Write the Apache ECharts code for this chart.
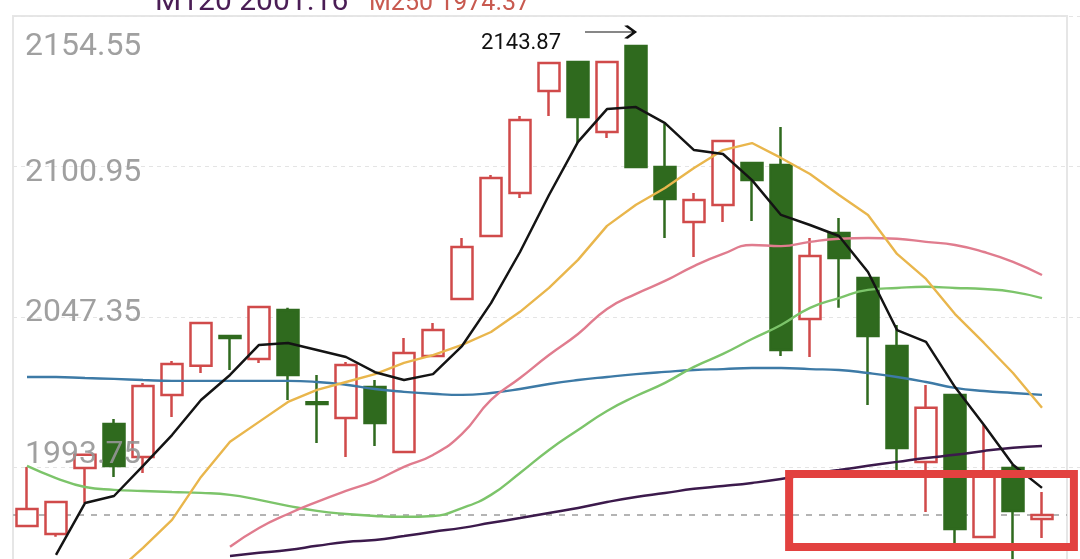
<!DOCTYPE html>
<html>
<head>
<meta charset="utf-8">
<script src="https://cdn.jsdelivr.net/npm/echarts@6/dist/echarts.min.js"></script>
<style>
html,body{margin:0;padding:0;background:#fff;}
#c{width:1080px;height:559px;}
</style>
</head>
<body>
<div id="c"></div>
<script>
// ---- data ----
const open  = [1972.95,1970.05,1993.6,2009.25,1997.5,2019.6,2029.95,2040.6,2032.4,2049.85,2017.0,2011.4,2022.45,1999.3,2033.5,2053.8,2076.2,2091.5,2127.85,2138.15,2113.25,2143.87,2100.8,2081.2,2087.25,2102.2,2101.5,2046.65,2077.3,2061.25,2037.0,1995.75,2019.6,1969.0,1993.6,1975.4];
const close = [1979.0,1981.45,1998.25,1994.3,2022.8,2030.65,2045.25,2039.9,2050.95,2026.7,2016.4,2030.25,2009.6,2034.55,2042.75,2072.3,2096.85,2117.5,2137.8,2118.6,2138.15,2100.8,2089.4,2089.05,2110.0,2096.15,2035.6,2069.1,2068.4,2040.6,2000.7,2015.0,1971.85,1991.8,1978.3,1976.85];
const low   = [1972.95,1969.05,1981.1,1990.4,1991.8,2011.75,2027.4,2028.5,2031.0,2017.8,2002.5,1997.5,2001.4,1999.3,2033.5,2053.8,2076.2,2089.75,2118.95,2109.3,2111.1,2100.8,2075.5,2068.7,2081.2,2081.55,2033.5,2033.1,2050.6,2016.05,1990.05,1977.9,1964.05,1969.0,1960.0,1968.65];
const high  = [1993.95,1981.45,1998.25,2011.05,2023.85,2031.7,2045.25,2040.6,2050.95,2050.6,2026.7,2031.3,2024.9,2039.9,2045.25,2075.5,2097.9,2118.95,2137.8,2138.15,2138.15,2143.87,2116.1,2091.5,2110.0,2102.2,2115.0,2075.5,2082.6,2061.25,2044.5,2023.15,2019.6,2008.9,1994.65,1985.05];

const ma5   = [null,1962.6,1981.1,1983.6,1994.3,2005.3,2017.8,2026.7,2037.4,2038.1,2035.6,2033.1,2027.7,2024.9,2027.0,2037.0,2052.3,2070.5,2090.8,2109.7,2121.4,2122.1,2116.4,2106.8,2105.4,2096.1,2083.7,2080.1,2076.2,2063.4,2042.7,2038.5,2022.4,2008.9,1994.7,1986.5];
const ma10  = [null,null,null,1955.9,1965.1,1975.1,1990.4,2002.9,2010.0,2017.1,2021.4,2024.2,2027.0,2031.0,2033.8,2037.4,2042.0,2049.2,2057.7,2067.7,2079.8,2087.3,2093.3,2100.4,2106.8,2109.3,2104.0,2098.3,2090.8,2083.7,2069.8,2060.9,2048.4,2038.1,2027.4,2015.0];
const ma20  = [null,null,null,null,null,null,null,1965.5,1972.2,1977.2,1981.5,1985.4,1989.0,1994.0,1998.2,2005.7,2017.8,2025.6,2033.8,2041.3,2050.2,2055.6,2060.2,2065.5,2069.8,2073.0,2072.6,2074.1,2075.2,2075.5,2075.2,2074.1,2073.0,2070.5,2067.0,2062.3];
const ma30  = [1994.3,1990.0,1986.8,1985.8,1985.4,1985.0,1984.7,1984.0,1982.2,1980.1,1978.3,1977.2,1976.5,1976.2,1976.5,1979.3,1984.0,1991.8,2000.0,2007.1,2013.9,2019.2,2023.9,2029.6,2034.2,2039.5,2044.5,2050.6,2054.1,2057.0,2057.7,2058.1,2057.7,2057.3,2056.3,2054.1];
const ma60  = [2026.0,2026.0,2025.6,2025.3,2024.9,2024.6,2024.6,2024.6,2024.6,2024.6,2024.2,2023.2,2021.7,2020.7,2020.0,2019.6,2020.3,2021.7,2023.5,2024.9,2026.0,2027.0,2027.8,2028.5,2028.8,2029.2,2029.2,2028.8,2028.5,2027.4,2026.0,2024.2,2022.1,2021.0,2020.3,2019.6];
const ma120 = [null,null,null,null,null,null,null,1962.25,1963.35,1964.4,1965.85,1967.25,1967.95,1969.35,1970.85,1972.25,1974.05,1975.75,1977.55,1979.35,1981.45,1983.25,1984.65,1986.15,1987.15,1988.25,1989.65,1991.45,1992.85,1994.35,1995.75,1997.15,1998.25,1999.65,2000.75,2001.45];

const tickLabels = [2154.55, 2100.95, 2047.35, 1993.75];
const headerTexts = ['M120 2001.16', 'M250 1974.37'];
const maxLabel = '2143.87';
const maxIndex = 21;
// highlighted region (index / price space)
const boxX = [26.28, 36.1];
const boxY = [1991.45, 1965.45];

// ---- derived ----
const step = tickLabels[0] - tickLabels[1];
const yMax = tickLabels[0];
const yMin = tickLabels[tickLabels.length - 1] - step;
const lastClose = close[close.length - 1];

const pairs = arr => arr.map((v, i) => [i, v]);

const labelShift = [62, 12, -8, -26]; // rich padding for each tick label
const rich = {};
tickLabels.forEach((t, k) => {
  const p = labelShift[k];
  rich['t' + k] = {
    fontSize: 32, color: 'rgba(150,150,150,0.9)', fontFamily: 'Roboto',
    padding: p >= 0 ? [p, 0, 0, 0] : [0, 0, -p, 0]
  };
});

const chart = echarts.init(document.getElementById('c'));
const lineBase = {type: 'line', showSymbol: false, symbol: 'none', xAxisIndex: 0, yAxisIndex: 0, silent: true, z: 3};

chart.setOption({
  animation: false,
  backgroundColor: '#fff',
  title: [
    {text: headerTexts[0], left: 155, top: -13, padding: 0,
     textStyle: {color: '#4a1d55', fontSize: 30, fontWeight: 'normal', fontFamily: 'Roboto'}},
    {text: headerTexts[1], left: 369, top: -9, padding: 0,
     textStyle: {color: '#c85a50', fontSize: 25, fontWeight: 'normal', fontFamily: 'Roboto'}}
  ],
  grid: [
    {left: 13, width: 1067, top: 16, height: 602, show: false, outerBoundsMode: 'none', containLabel: false},
    {left: 13, width: 1054, top: 16, height: 600, show: true, borderColor: '#e6e6e6', borderWidth: 2, backgroundColor: 'transparent', outerBoundsMode: 'none', containLabel: false}
  ],
  xAxis: [
    {type: 'value', gridIndex: 0, min: -14 / 29, max: -14 / 29 + 1067 / 29, show: false, splitLine: {show: false}},
    {type: 'value', gridIndex: 1, show: false, splitLine: {show: false}}
  ],
  yAxis: [
    {type: 'value', gridIndex: 0, min: yMin, max: yMax, interval: step, z: 0,
     axisLine: {show: false}, axisTick: {show: false}, axisLabel: {show: false},
     splitLine: {show: true, lineStyle: {color: '#e4e4e4', width: 1, type: [4, 4]}}},
    {type: 'value', gridIndex: 1, show: false, splitLine: {show: false}},
    {type: 'value', gridIndex: 0, position: 'left', min: yMin, max: yMax, interval: step, z: 4,
     axisLine: {show: false}, axisTick: {show: false}, splitLine: {show: false},
     axisLabel: {
       inside: true, margin: 12, align: 'left',
       formatter: v => {
         const k = tickLabels.findIndex(t => Math.abs(t - v) < 0.01);
         return k < 0 ? '' : '{t' + k + '|' + tickLabels[k].toFixed(2) + '}';
       },
       rich: rich
     }}
  ],
  series: [
    {
      type: 'candlestick', xAxisIndex: 0, yAxisIndex: 0, silent: true,
      data: open.map((o, i) => [i, o, close[i], low[i], high[i]]),
      barWidth: 21,
      itemStyle: {color: '#ffffff', color0: '#2f6a1e', borderColor: '#d04a4a', borderColor0: '#2f6a1e', borderWidth: 2.5},
      markLine: {
        silent: true, symbol: ['none', 'none'], label: {show: false}, z: 1,
        lineStyle: {color: '#b4b4b4', width: 2, type: [6, 7]},
        data: [[{coord: [-14 / 29, lastClose]}, {coord: [1040 / 29, lastClose]}]]
      },
      markPoint: {
        silent: true,
        symbol: 'path://M0,6L50,6M41,0L50,6L41,12',
        symbolSize: [50, 13],
        symbolOffset: [-26, -14],
        itemStyle: {color: 'none', borderColor: '#111', borderWidth: 2},
        label: {show: true, position: 'left', distance: 19, offset: [0, 12], formatter: maxLabel,
                color: '#111', fontSize: 22, fontFamily: 'Roboto'},
        data: [{coord: [maxIndex, high[maxIndex]]}]
      },
      markArea: {
        silent: true, z: 10,
        itemStyle: {color: 'rgba(0,0,0,0)', borderColor: '#e2413f', borderWidth: 8},
        data: [[{coord: [boxX[0], boxY[0]]}, {coord: [boxX[1], boxY[1]]}]]
      }
    },
    Object.assign({}, lineBase, {name: 'MA120', data: pairs(ma120), smooth: true, lineStyle: {color: '#3c1a4c', width: 2.5}}),
    Object.assign({}, lineBase, {name: 'MA60', data: pairs(ma60), smooth: true, lineStyle: {color: '#3d7aa6', width: 2.4}}),
    Object.assign({}, lineBase, {name: 'MA30', data: pairs(ma30), smooth: true, lineStyle: {color: '#7cc46a', width: 2.4}}),
    Object.assign({}, lineBase, {name: 'MA20', data: pairs(ma20), smooth: true, lineStyle: {color: '#e07c8e', width: 2.4}}),
    Object.assign({}, lineBase, {name: 'MA10', data: pairs(ma10), smooth: false, lineStyle: {color: '#e9b64c', width: 2.4}}),
    Object.assign({}, lineBase, {name: 'MA5', data: pairs(ma5), smooth: false, lineStyle: {color: '#141414', width: 2.5}})
  ]
});
</script>
</body>
</html>
